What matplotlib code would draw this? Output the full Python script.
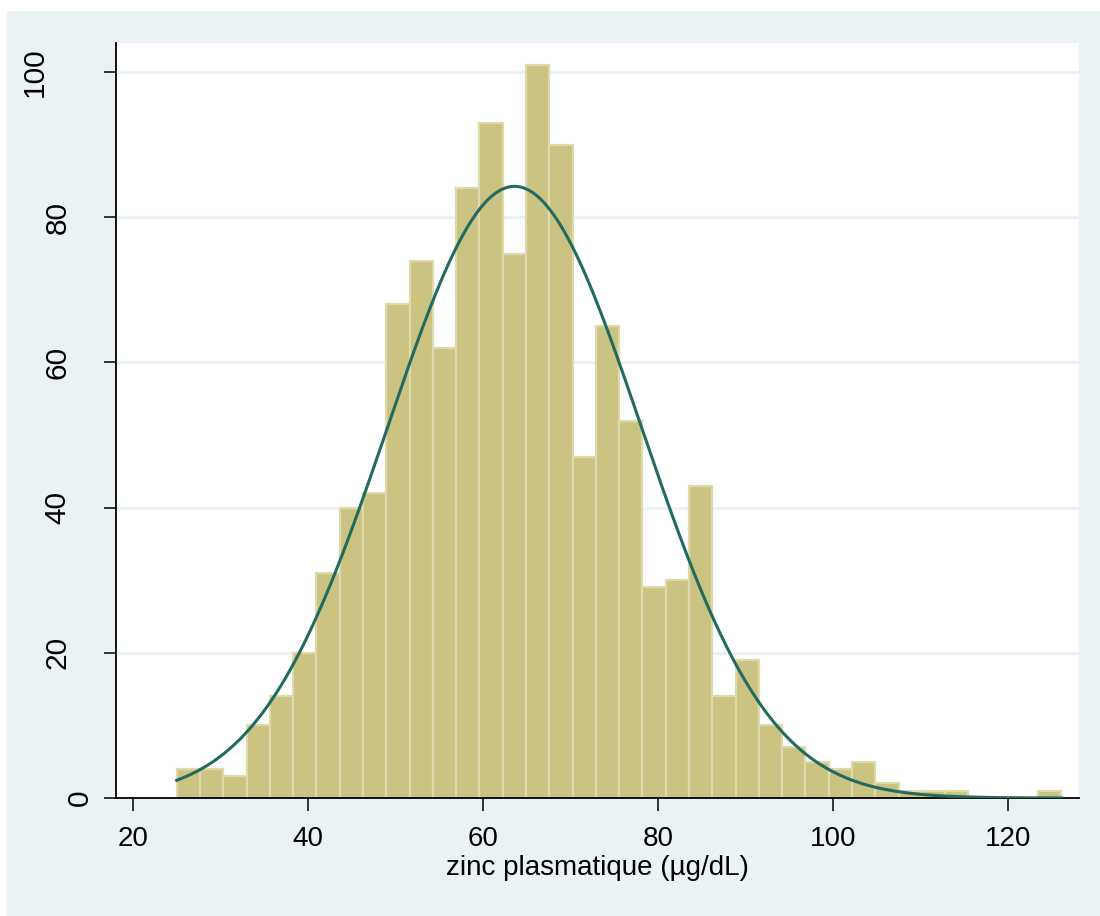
import numpy as np
import matplotlib

matplotlib.use("Agg")
import matplotlib.pyplot as plt
from matplotlib.patches import Rectangle

plt.rcParams["font.family"] = ["Liberation Sans", "DejaVu Sans"]

# histogram counts, 38 equal bins from X_MIN to X_MAX
COUNTS = [4, 4, 3, 10, 14, 20, 31, 40, 42, 68,
          74, 62, 84, 93, 75, 101, 90, 47, 65, 52,
          29, 30, 43, 14, 19, 10, 7, 5, 4, 5,
          2, 1, 1, 1, 0, 0, 0, 1]
X_MIN, X_MAX = 25.0, 126.1
# normal overlay parameters
MEAN, SD = 63.6, 14.5

X_TICKS = [20, 40, 60, 80, 100, 120]
Y_TICKS = [0, 20, 40, 60, 80, 100]
X_LABEL = "zinc plasmatique (µg/dL)"

BG = "#EAF2F3"
BAR_FILL = "#CBC382"
BAR_EDGE = "#DEDAAC"
CURVE = "#236B60"

W, H = 1100, 916
fig = plt.figure(figsize=(W / 100, H / 100), dpi=100, facecolor="white")
fig.patches.append(Rectangle((7 / W, 0), 1, (H - 11) / H, transform=fig.transFigure,
                             facecolor=BG, edgecolor="none", zorder=-10))
ax = fig.add_axes([116 / W, (H - 798) / H, (1079 - 116) / W, (798 - 43) / H])
ax.set_facecolor("white")

edges = np.linspace(X_MIN, X_MAX, len(COUNTS) + 1)
width = edges[1] - edges[0]
ax.bar(edges[:-1], COUNTS, width=width, align="edge", color=BAR_FILL,
       edgecolor=BAR_EDGE, linewidth=1.6, zorder=2)

xs = np.linspace(X_MIN, X_MAX, 400)
scale = sum(COUNTS) * width
ys = scale * np.exp(-0.5 * ((xs - MEAN) / SD) ** 2) / (SD * np.sqrt(2 * np.pi))
ax.plot(xs, ys, color=CURVE, lw=2.2, zorder=3)

ax.set_xlim(18.06, 128.1)
ax.set_ylim(0, 104.0)
ax.set_xticks(X_TICKS)
ax.set_yticks(Y_TICKS)
ax.set_yticklabels([])
ax.yaxis.grid(True, color=BG, lw=2.2, zorder=0)
ax.set_axisbelow(True)

for s in ("top", "right"):
    ax.spines[s].set_visible(False)
for s in ("left", "bottom"):
    ax.spines[s].set_linewidth(1.3)
    ax.spines[s].set_color("black")

ax.tick_params(axis="both", length=9, width=1.1, color="black", labelsize=20)
ax.tick_params(axis="x", pad=11)

# Stata-style rotated y labels: longer labels sit further left
for v in Y_TICKS:
    lab = str(v)
    right_px = 22 + 22.5 * (len(lab) - 1)
    ax.annotate(lab, xy=(0, v), xycoords=("axes fraction", "data"),
                xytext=(-right_px * 0.72, 0), textcoords="offset points",
                rotation=90, ha="right", va="center", fontsize=21.5)

ax.set_xlabel(X_LABEL, fontsize=20, labelpad=2)

fig.savefig("out.png", dpi=100, facecolor="white")
